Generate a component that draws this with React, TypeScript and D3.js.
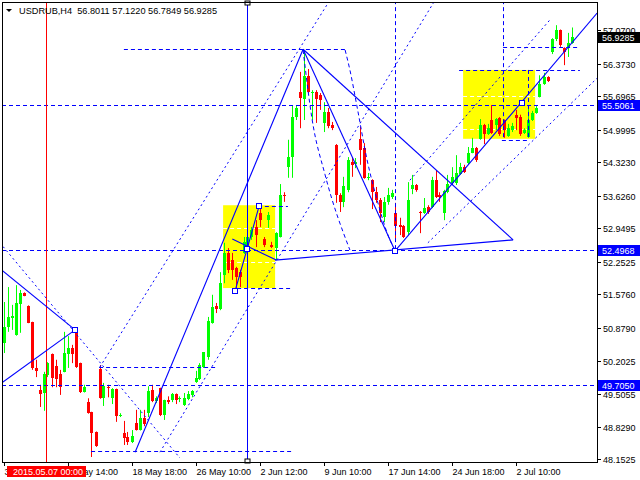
import React from 'react';
import * as d3 from 'd3';

// ---- candle data (USDRUB H4) ----
const opens = [50.57,50.90,51.09,50.73,51.38,51.61,51.34,51.00,50.05,49.59,49.53,49.90,50.34,50.09,49.92,49.97,50.34,50.47,50.78,50.15,49.55,49.34,49.13,48.72,50.03,49.42,49.65,49.42,49.61,49.05,48.70,48.61,48.51,48.91,48.76,49.01,49.11,49.59,49.36,49.63,49.07,49.38,49.38,49.51,49.40,49.28,49.40,49.49,49.76,49.82,50.07,50.28,50.98,51.34,51.27,51.98,52.44,52.29,52.13,52.04,52.44,52.50,52.77,52.98,53.27,52.73,53.12,52.60,52.54,52.77,53.64,54.22,54.43,55.26,55.78,55.64,56.11,55.76,55.78,55.72,55.14,55.37,55.10,54.68,53.64,53.50,53.75,54.33,54.29,54.81,54.62,54.00,53.95,53.71,53.54,53.19,53.50,53.60,53.27,53.02,53.00,52.87,53.77,53.85,53.29,53.27,53.39,53.39,53.95,53.64,53.27,53.70,53.89,53.89,54.08,54.22,54.31,54.52,54.62,54.81,55.10,54.91,55.20,55.10,55.24,55.20,54.87,55.00,55.31,55.26,54.93,54.85,55.20,55.35,55.68,55.95,56.09,56.61,56.88,57.07,56.70,56.70,56.8011];
const highs = [51.42,51.73,51.36,51.77,51.67,51.62,51.35,51.01,50.22,49.70,49.97,50.17,50.35,50.22,50.01,50.80,50.71,50.53,50.86,50.16,49.70,49.42,49.14,48.73,50.11,49.74,49.70,49.63,49.62,49.11,48.95,48.72,48.76,49.18,49.18,49.18,49.67,49.70,49.46,49.64,49.39,49.46,49.53,49.52,49.46,49.53,49.57,49.59,49.99,50.15,50.38,51.11,51.57,51.40,52.04,52.65,52.54,52.44,52.15,52.09,52.77,52.86,52.98,53.12,53.39,52.77,53.29,52.67,52.87,53.87,53.70,54.79,55.51,55.51,56.20,56.65,56.26,55.82,55.82,55.76,55.57,55.45,55.16,54.70,53.68,54.02,54.43,54.43,54.41,55.06,54.72,54.10,53.97,53.81,53.58,53.60,53.79,53.75,53.48,53.17,53.02,53.91,54.06,53.87,53.31,53.58,53.43,54.02,54.16,53.70,53.75,54.06,54.22,54.47,54.31,54.27,54.64,54.83,54.64,55.22,55.12,55.12,55.51,55.24,55.26,55.21,55.12,55.14,55.41,55.31,55.03,55.51,55.39,55.49,56.13,56.18,56.11,56.90,57.17,57.08,56.71,57.01,57.1220];
const lows = [50.36,50.80,50.84,50.72,50.78,51.54,50.98,50.01,49.86,49.24,49.16,49.86,49.65,49.65,49.49,49.96,50.05,50.15,50.05,49.53,49.54,49.10,48.20,48.41,49.41,49.26,49.44,49.30,48.93,49.03,48.45,48.45,48.49,48.75,48.75,48.84,49.03,49.34,49.32,49.05,48.97,49.30,49.34,49.30,49.34,49.26,49.38,49.44,49.74,49.80,50.05,50.22,50.97,51.19,51.25,51.81,52.02,51.88,51.71,51.73,52.42,52.44,52.71,52.56,52.98,52.56,52.96,52.54,52.29,52.76,53.50,54.00,54.00,55.20,55.03,55.20,55.76,55.20,55.14,55.41,54.95,55.03,54.99,53.48,53.29,53.39,53.70,54.02,54.20,54.27,53.98,53.95,53.35,53.48,53.08,53.08,53.44,53.56,52.71,52.81,52.75,52.81,53.66,53.71,52.85,53.25,53.25,53.37,53.58,53.50,53.12,53.68,53.85,53.85,54.06,54.10,54.27,54.51,54.33,54.79,54.70,54.89,54.91,54.99,54.87,54.83,54.85,54.95,54.99,54.87,54.91,54.83,55.18,55.33,55.67,55.93,55.99,56.57,56.84,56.72,56.34,56.51,56.7849];
const closes = [50.90,51.11,51.13,51.40,51.61,51.55,50.99,50.05,49.99,49.51,49.92,50.15,49.84,49.82,49.65,50.36,50.47,50.34,50.07,49.55,49.65,49.11,48.70,48.43,49.42,49.68,49.63,49.61,49.05,49.07,48.59,48.51,48.63,48.76,49.01,48.89,49.57,49.36,49.42,49.07,49.38,49.34,49.51,49.38,49.42,49.42,49.51,49.57,49.84,50.11,50.38,51.03,51.31,51.27,51.81,52.44,52.09,52.09,51.94,51.94,52.67,52.77,52.92,52.81,53.12,52.60,53.23,52.56,52.85,53.64,53.62,54.43,55.26,55.45,55.66,56.11,55.78,55.78,55.64,55.62,55.37,55.08,55.03,53.64,53.50,53.83,54.37,54.27,54.33,54.58,54.00,54.02,53.71,53.54,53.27,53.50,53.64,53.68,52.99,52.98,52.77,53.54,53.85,53.75,53.27,53.37,53.29,53.95,53.60,53.60,53.73,53.87,54.02,54.10,54.22,54.12,54.52,54.62,54.37,55.10,54.91,55.04,54.93,55.22,54.91,54.99,55.03,55.08,55.24,54.91,54.99,55.20,55.35,55.45,55.95,56.09,56.01,56.88,57.07,56.76,56.61,56.80,56.9285];

// ---- axes ----
const priceTicks = [57.07, 56.373, 55.6965, 54.9995, 54.323, 53.626, 52.9495, 52.2525, 51.576, 50.879, 50.2025, 49.5055, 48.829, 48.1525];
const timeTickBars = [0, 16, 32, 48, 64, 80, 96, 112, 128];
const timeTickLabels = ['30 Apr 18:00', '8 May 14:00', '18 May 18:00', '26 May 10:00', '2 Jun 12:00', '9 Jun 10:00', '17 Jun 14:00', '24 Jun 18:00', '2 Jul 10:00'];
const headerText = 'USDRUB,H4  56.8011 57.1220 56.7849 56.9285';
const currentPrice = 56.9285;
const dateLineBar = 11;
const dateLineLabel = '2015.05.07 00:00';

// ---- drawing objects (bar index, price) ----
const levelPrices = [55.5061, 52.4968, 49.705];
const solidLines: [number, number][][] = [
  [[32.9, 48.30], [74.9, 56.67]],
  [[74.9, 56.67], [97.9, 52.48]],
  [[74.9, 56.67], [127.4, 52.71]],
  [[67.9, 52.29], [127.4, 52.71]],
  [[97.9, 52.48], [148.4, 57.42]],
  [[-0.4, 52.08], [17.9, 50.84]],
  [[-0.4, 49.74], [17.9, 50.84]],
  [[57.9, 51.65], [60.9, 52.52], [63.9, 53.41]],
  [[57.2, 52.73], [68.2, 52.29]],
];
const dashedLines: [number, number][][] = [
  [[-0.9, 52.65], [44.1, 48.18]],
  [[24.1, 50.07], [81.6, 57.69]],
  [[39.1, 48.30], [107.9, 57.69]],
  [[101.6, 53.95], [136.6, 57.28]],
  [[106.1, 52.65], [148.4, 56.07]],
];
const dashedCurves: [number, number][][] = [
  [[74.9, 56.655], [77.1, 55.24], [80.4, 54.06], [86.6, 52.50]],
  [[85.4, 56.655], [86.6, 56.24], [88.4, 55.47], [90.9, 54.37], [93.4, 53.54], [96.6, 52.71], [97.9, 52.50]],
];
const hSegPrice = [56.675, 50.07, 48.33, 53.41, 51.71, 56.24, 56.72, 54.79];
const hSegFrom = [30.1, 23.9, 21.9, 63.6, 58.4, 113.9, 124.9, 124.6];
const hSegTo = [85.4, 52.9, 72.1, 71.1, 72.1, 144.1, 144.1, 131.6];
const vDashBar = [97.9, 124.9, 131.1];
const vDashTop = [57.69, 57.69, 56.24];
const vDashBottom = [52.48, 54.79, 54.79];
const vSolidBar = 61;
const boxFrom = [54.9, 114.9];
const boxTo = [67.9, 132.9];
const boxTop = [53.43, 56.24];
const boxBottom = [51.71, 54.81];
const boxInner = [[52.96, 52.25], [55.70, 55.01]];
const markers: [number, number][] = [[57.9, 51.65], [63.9, 53.41], [60.9, 52.52], [97.9, 52.48], [129.6, 55.55], [17.9, 50.84]];

const W = 640, H = 480;
const L = 2, T = 2, R = 597, B = 462;
const BLUE = '#0000ff';
const GREEN = '#00ff00';
const RED = '#ff0000';
const FONT = '"Liberation Sans", Arial, sans-serif';
const DASH = '4,3';

export default function App() {
  const xs = d3.scaleLinear().domain([0, 142]).range([3.5, 571.5]);
  const ys = d3.scaleLinear().domain([48.1525, 57.07]).range([459.3, 30]);
  const line = d3.line<[number, number]>().x(d => xs(d[0])).y(d => ys(d[1]));
  const curve = d3.line<[number, number]>().x(d => xs(d[0])).y(d => ys(d[1])).curve(d3.curveMonotoneX);
  const fmt = d3.format('.4f');

  return (
    <svg width={W} height={H} style={{ position: 'absolute', left: 0, top: 0, background: '#fff' }} fontFamily={FONT}>
      <defs>
        <clipPath id="plot"><rect x={L} y={T} width={R - L} height={B - T} /></clipPath>
      </defs>
      <rect x={0} y={0} width={W} height={H} fill="#fff" />
      <g clipPath="url(#plot)">
        {boxFrom.map((b, j) => (
          <g key={'box' + j}>
            <rect x={xs(b)} y={ys(boxTop[j])} width={xs(boxTo[j]) - xs(b)} height={ys(boxBottom[j]) - ys(boxTop[j])} fill="#ffff00" />
            {boxInner[j].map((p, q) => (
              <line key={q} x1={xs(b)} x2={xs(boxTo[j])} y1={Math.round(ys(p)) + 0.5} y2={Math.round(ys(p)) + 0.5} stroke="#fff" strokeDasharray={DASH} />
            ))}
          </g>
        ))}
        {opens.map((o, i) => {
          const c = closes[i];
          const up = c >= o;
          const col = up ? GREEN : RED;
          const cx = Math.round(xs(i)) + 0.5;
          const top = Math.round(ys(Math.max(o, c)));
          const bot = Math.round(ys(Math.min(o, c)));
          return (
            <g key={i}>
              <line x1={cx} x2={cx} y1={ys(highs[i])} y2={ys(lows[i])} stroke={col} />
              <rect x={cx - 1.5} y={top} width={3} height={Math.max(1, bot - top)} fill={col} />
            </g>
          );
        })}
        {levelPrices.map((p, j) => (
          <line key={'lv' + j} x1={L} x2={R} y1={Math.round(ys(p)) + 0.5} y2={Math.round(ys(p)) + 0.5} stroke={BLUE} strokeDasharray={DASH} />
        ))}
        {hSegPrice.map((p, j) => (
          <line key={'hs' + j} x1={xs(hSegFrom[j])} x2={xs(hSegTo[j])} y1={Math.round(ys(p)) + 0.5} y2={Math.round(ys(p)) + 0.5} stroke={BLUE} strokeDasharray={DASH} />
        ))}
        {vDashBar.map((b, j) => (
          <line key={'vd' + j} x1={Math.round(xs(b)) + 0.5} x2={Math.round(xs(b)) + 0.5} y1={ys(vDashTop[j])} y2={ys(vDashBottom[j])} stroke={BLUE} strokeDasharray={DASH} />
        ))}
        <line x1={Math.round(xs(dateLineBar)) - 0.5} x2={Math.round(xs(dateLineBar)) - 0.5} y1={T} y2={B} stroke={RED} />
        <line x1={Math.round(xs(vSolidBar)) + 0.5} x2={Math.round(xs(vSolidBar)) + 0.5} y1={T} y2={B} stroke={BLUE} />
        {dashedLines.map((d, j) => (
          <path key={'dl' + j} d={line(d) || ''} fill="none" stroke={BLUE} strokeDasharray="2,3" />
        ))}
        {dashedCurves.map((d, j) => (
          <path key={'dc' + j} d={curve(d) || ''} fill="none" stroke={BLUE} strokeDasharray={DASH} />
        ))}
        {solidLines.map((d, j) => (
          <path key={'sl' + j} d={line(d) || ''} fill="none" stroke={BLUE} strokeWidth={1.1} />
        ))}
        {markers.map((m, j) => (
          <rect key={'mk' + j} x={Math.round(xs(m[0])) - 2.5} y={Math.round(ys(m[1])) - 2.5} width={5} height={5} fill="#fff" stroke={BLUE} />
        ))}
      </g>
      <rect x={Math.round(xs(vSolidBar)) - 2} y={T - 1} width={5} height={4} fill="#fff" stroke="#000" />
      <rect x={Math.round(xs(vSolidBar)) - 2} y={B - 3} width={5} height={4} fill="#fff" stroke="#000" />
      {/* frame */}
      <rect x={L + 0.5} y={T + 0.5} width={R - L} height={B - T} fill="none" stroke="#000" />
      {/* header */}
      <path d="M6,9 L12,9 L9,12 Z" fill="#000" />
      <text x={19} y={14} fontSize={9.2} fill="#000" style={{ whiteSpace: 'pre' }}>{headerText}</text>
      {/* price axis */}
      {priceTicks.map((p, j) => {
        const y = Math.round(ys(p)) + 0.5;
        return (
          <g key={'pt' + j}>
            <line x1={R} x2={R + 4} y1={y} y2={y} stroke="#000" />
            <text x={603} y={y + 3} fontSize={9} fill="#000">{fmt(p)}</text>
          </g>
        );
      })}
      {levelPrices.map((p, j) => {
        const y = ys(p);
        return (
          <g key={'lb' + j}>
            <rect x={598} y={Math.round(y) - 5} width={42} height={11} fill={BLUE} />
            <text x={602} y={Math.round(y) + 3.5} fontSize={9} fill="#fff">{fmt(p)}</text>
          </g>
        );
      })}
      <rect x={598} y={Math.round(ys(currentPrice)) - 5} width={42} height={11} fill="#000" />
      <text x={602} y={Math.round(ys(currentPrice)) + 3.5} fontSize={9} fill="#fff">{fmt(currentPrice)}</text>
      {/* time axis */}
      {timeTickBars.map((b, j) => {
        const x = Math.round(xs(b)) + 0.5;
        return (
          <g key={'tt' + j}>
            <line x1={x} x2={x} y1={B} y2={B + 4} stroke="#000" />
            <text x={x} y={474.5} fontSize={9} fill="#000">{timeTickLabels[j]}</text>
          </g>
        );
      })}
      <rect x={Math.round(xs(dateLineBar)) - 40} y={466} width={79} height={11} fill={RED} />
      <text x={Math.round(xs(dateLineBar)) - 34} y={474.5} fontSize={9} fill="#fff">{dateLineLabel}</text>
    </svg>
  );
}
